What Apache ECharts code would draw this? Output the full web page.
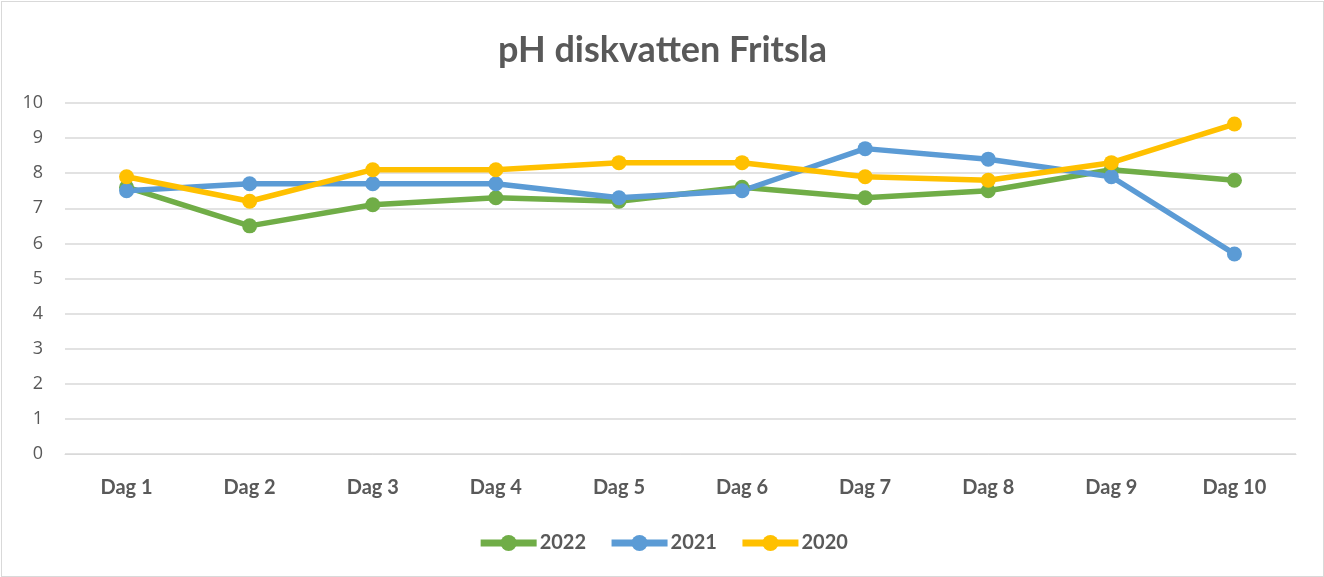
<!DOCTYPE html>
<html><head><meta charset="utf-8">
<script src="https://cdn.jsdelivr.net/npm/echarts@6/dist/echarts.min.js"></script>
<style>
html,body{margin:0;padding:0;background:#fff;}
#c{position:absolute;left:1px;top:1px;width:1321px;height:574px;border:1px solid #d9d9d9;}
</style></head><body>
<div id="c"></div>
<script>
const categories = ['Dag 1','Dag 2','Dag 3','Dag 4','Dag 5','Dag 6','Dag 7','Dag 8','Dag 9','Dag 10'];
const s2022 = [7.6, 6.5, 7.1, 7.3, 7.2, 7.6, 7.3, 7.5, 8.1, 7.8];
const s2021 = [7.5, 7.7, 7.7, 7.7, 7.3, 7.5, 8.7, 8.4, 7.9, 5.7];
const s2020 = [7.9, 7.2, 8.1, 8.1, 8.3, 8.3, 7.9, 7.8, 8.3, 9.4];
const names = ['2022','2021','2020'];
const colors = ['#70ad47','#5b9bd5','#ffc000'];

const chart = echarts.init(document.getElementById('c'));
const mk = (name, data, color) => ({
  name, type:'line', data, color,
  symbol:'circle', symbolSize:15,
  lineStyle:{width:5.5, color},
  itemStyle:{color},
  emphasis:{disabled:true}
});
chart.setOption({
  animation:false,
  title:{text:'pH diskvatten Fritsla', left:'center', top:25,
    textStyle:{fontFamily:'Lato', fontWeight:'bold', fontSize:36, color:'#595959'}},
  grid:{left:63, right:27, top:101, bottom:122, containLabel:false},
  legend:{bottom:18, left:'center', itemWidth:56, itemHeight:20, itemGap:22,
    data:names,
    lineStyle:{width:7},
    textStyle:{fontFamily:'Lato', fontWeight:'bold', fontSize:20, color:'#595959', padding:[0,0,0,-2]}},
  xAxis:{type:'category', data:categories, boundaryGap:true,
    axisLine:{lineStyle:{color:'#d9d9d9', width:1}},
    axisTick:{show:false},
    axisLabel:{margin:24, fontFamily:'Lato', fontWeight:'bold', fontSize:20, color:'#595959'}},
  yAxis:{type:'value', min:0, max:10, interval:1,
    axisLine:{show:false}, axisTick:{show:false},
    splitLine:{lineStyle:{color:'#d9d9d9', width:1.5}},
    axisLabel:{margin:22, fontFamily:'Open Sans', fontSize:18, color:'#595959'}},
  series:[mk(names[0], s2022, colors[0]), mk(names[1], s2021, colors[1]), mk(names[2], s2020, colors[2])]
});
</script></body></html>
